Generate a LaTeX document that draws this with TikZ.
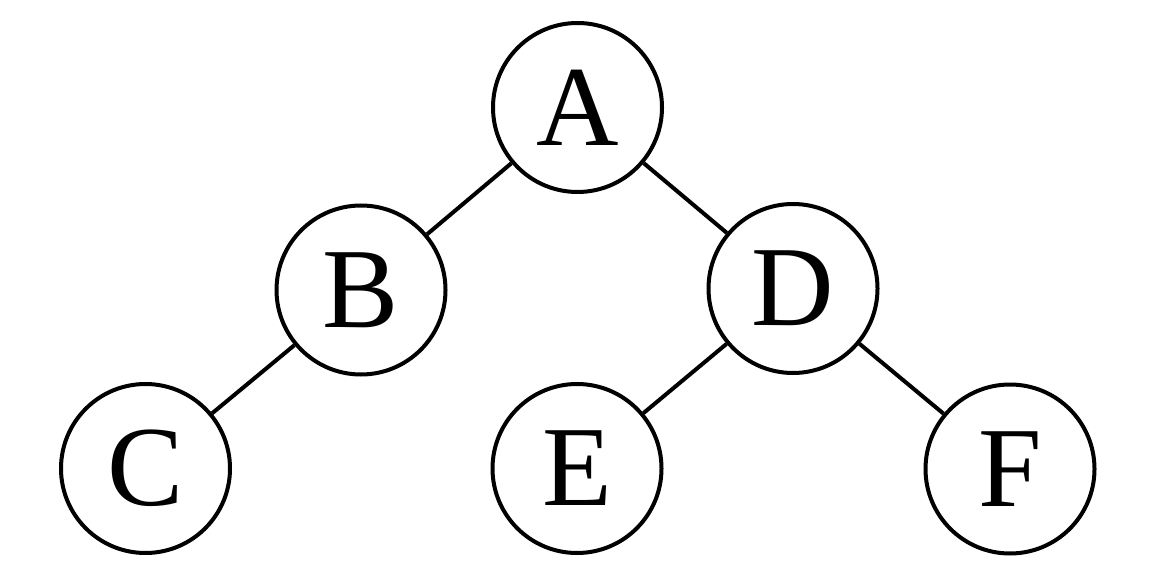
\documentclass[tikz,border=0pt]{standalone}
\usepackage{fontspec}
\setmainfont{Liberation Serif}
\begin{document}
\begin{tikzpicture}[vertex/.style={circle, draw, line width=.08cm, minimum size=3.38cm, inner sep=0pt, font=\fontsize{65}{65}\selectfont}]
      \useasboundingbox (0,0) rectangle (23.04,-11.64);
      \node[vertex] (a) at (11.55,-2.15) {A};
      \node[vertex] (b) at (7.22,-5.8) {B};
      \node[vertex] (d) at (15.86,-5.77) {D};
      \node[vertex] (c) at (2.91,-9.37) {C};
      \node[vertex] (e) at (11.54,-9.37) {E};
      \node[vertex] (f) at (20.2,-9.38) {F};
      \foreach \u/\v in {a/b, a/d, b/c, d/e, d/f}
      {
          \draw[line width=.08cm] (\u)--(\v);
      }
\end{tikzpicture}
\end{document}
